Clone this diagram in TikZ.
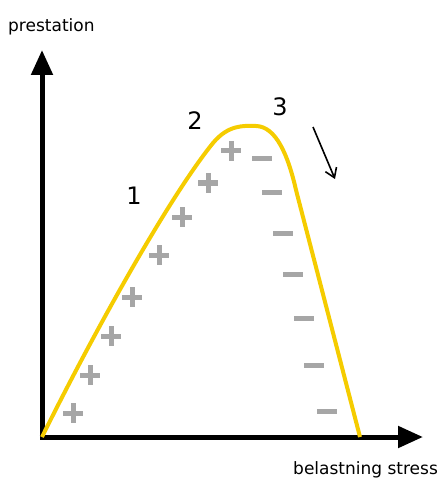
\documentclass[tikz,border=0pt]{standalone}
\usepackage{fontspec}
\setmainfont{DejaVu Sans}
\usetikzlibrary{arrows.meta,positioning}
\definecolor{curve}{HTML}{F5CC00}
\definecolor{pm}{HTML}{A6A6A6}
\tikzset{
  axis/.style={line width=5pt,-{Triangle[length=25pt,width=21pt]}},
  lbl/.style={font=\fontsize{17}{20}\selectfont,inner sep=0pt},
  num/.style={font=\fontsize{24}{28}\selectfont,inner sep=0pt},
  plusbar/.style={draw=pm,line width=5pt},
  ar/.style={-{Straight Barb[length=9pt,width=12pt]},line width=1.6pt},
}

\begin{document}
\begin{tikzpicture}[x=1pt,y=-1pt]
\useasboundingbox (0,0) rectangle (438,478);
\coordinate (o) at (42,437);
\coordinate (ytip) at (42,50);
\coordinate (xtip) at (423,437);
\draw[axis] ([yshift=-2.5pt]o) -- (ytip);
\draw[axis] ([xshift=-2.5pt]o) -- (xtip);
\node[lbl,anchor=base west] (ylab) at (8,32) {prestation};
\node[lbl,anchor=base west] (xlab) at (293,474) {belastning stress};
% the curve
\draw[curve,line width=4pt] (o) .. controls (95,330) and (170,196) .. (213,143)
  .. controls (228,125) and (243,125.5) .. (256,126)
  .. controls (276,126.5) and (288,155) .. (296,190) -- (360,437);
% plus and minus
\foreach \x/\y in {73/413,90/375,111/336,132/297,159/255,182/217,208/183,231/151}
  \draw[plusbar] (\x-10,\y) -- (\x+10,\y) (\x,\y-10) -- (\x,\y+10);
\foreach \x/\y in {262/159,272/192,283/233,293/274,304/318,314/365,327/411}
  \draw[plusbar] (\x-10,\y) -- (\x+10,\y);
\node[num] (n1) at (134,196) {1};
\node[num] (n2) at (195,121) {2};
\node[num] (n3) at (280,107) {3};
\coordinate (a1) at (313,127);
\coordinate (a2) at (335,179);
\draw[ar] (a1) -- (a2);
\end{tikzpicture}
\end{document}
